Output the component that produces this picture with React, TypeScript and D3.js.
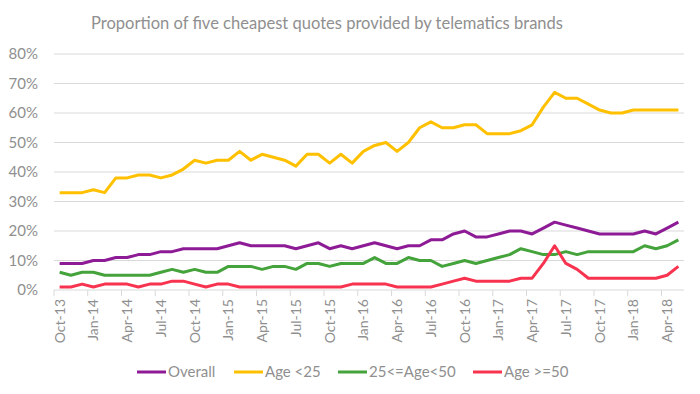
import React from "react";
import * as d3 from "d3";

const months: string[] = (() => {
  const names = ["Jan","Feb","Mar","Apr","May","Jun","Jul","Aug","Sep","Oct","Nov","Dec"];
  const out: string[] = [];
  let m = 9, y = 13;
  for (let i = 0; i < 56; i++) {
    out.push(`${names[m]}-${y}`);
    m++;
    if (m === 12) { m = 0; y++; }
  }
  return out;
})();

const overall = [9,9,9,10,10,11,11,12,12,13,13,14,14,14,14,15,16,15,15,15,15,14,15,16,14,15,14,15,16,15,14,15,15,17,17,19,20,18,18,19,20,20,19,21,23,22,21,20,19,19,19,19,20,19,21,23];
const ageUnder25 = [33,33,33,34,33,38,38,39,39,38,39,41,44,43,44,44,47,44,46,45,44,42,46,46,43,46,43,47,49,50,47,50,55,57,55,55,56,56,53,53,53,54,56,62,67,65,65,63,61,60,60,61,61,61,61,61];
const age25to50 = [6,5,6,6,5,5,5,5,5,6,7,6,7,6,6,8,8,8,7,8,8,7,9,9,8,9,9,9,11,9,9,11,10,10,8,9,10,9,10,11,12,14,13,12,12,13,12,13,13,13,13,13,15,14,15,17];
const age50plus = [1,1,2,1,2,2,2,1,2,2,3,3,2,1,2,2,1,1,1,1,1,1,1,1,1,1,2,2,2,2,1,1,1,1,2,3,4,3,3,3,3,4,4,9,15,9,7,4,4,4,4,4,4,4,5,8];

const yTicks = [0,10,20,30,40,50,60,70,80];

const seriesList = [
  { name: "Overall", values: overall, color: "#8e1b96" },
  { name: "Age <25", values: ageUnder25, color: "#ffc000" },
  { name: "25<=Age<50", values: age25to50, color: "#44a33a" },
  { name: "Age >=50", values: age50plus, color: "#f7334f" },
];

const FONT = "Lato, 'Open Sans', sans-serif";
const GREY = "#8f8f8f";

export default function App() {
  const W = 700, H = 394;
  const x = d3.scaleBand<string>().domain(months).range([54, 684]).paddingInner(0).paddingOuter(0);
  const y = d3.scaleLinear().domain([0, 80]).range([290, 54]);
  const line = d3.line<number>()
    .x((_, i) => (x(months[i]) as number) + x.bandwidth() / 2)
    .y((d) => y(d));

  const labelIdx = months.map((_, i) => i).filter((i) => i % 3 === 0);
  const legendX = [137, 234, 338, 473];

  return (
    <svg width={W} height={H} style={{ position: "absolute", left: 0, top: 0, background: "#fff" }} fontFamily={FONT}>
      <text x={91} y={29} textAnchor="start" fontSize={17.5} fill={GREY} textLength={472} lengthAdjust="spacingAndGlyphs">
        Proportion of five cheapest quotes provided by telematics brands
      </text>
      {yTicks.map((t) => (
        <g key={t}>
          <line x1={54} x2={684} y1={y(t)} y2={y(t)} stroke="#d9d9d9" strokeWidth={1} />
          <text x={38} y={y(t)} dy="0.35em" textAnchor="end" fontSize={15} fill={GREY}>{t}%</text>
        </g>
      ))}
      {labelIdx.map((i) => {
        const bx = x(months[i]) as number;
        const cx = bx + x.bandwidth() / 2;
        return (
          <g key={i}>
            <line x1={bx} x2={bx} y1={290} y2={296} stroke="#d9d9d9" strokeWidth={1} />
            <text transform={`translate(${cx},${299}) rotate(-90)`} textAnchor="end" dy="0.35em" fontSize={14} fill={GREY}>
              {months[i]}
            </text>
          </g>
        );
      })}
      {seriesList.map((s) => (
        <path key={s.name} d={line(s.values) || ""} fill="none" stroke={s.color} strokeWidth={3} strokeLinejoin="round" />
      ))}
      {seriesList.map((s, i) => (
        <g key={s.name}>
          <line x1={legendX[i]} x2={legendX[i] + 29} y1={372} y2={372} stroke={s.color} strokeWidth={3} />
          <text x={legendX[i] + 31} y={372} dy="0.35em" fontSize={15} fill={GREY}>{s.name}</text>
        </g>
      ))}
    </svg>
  );
}
